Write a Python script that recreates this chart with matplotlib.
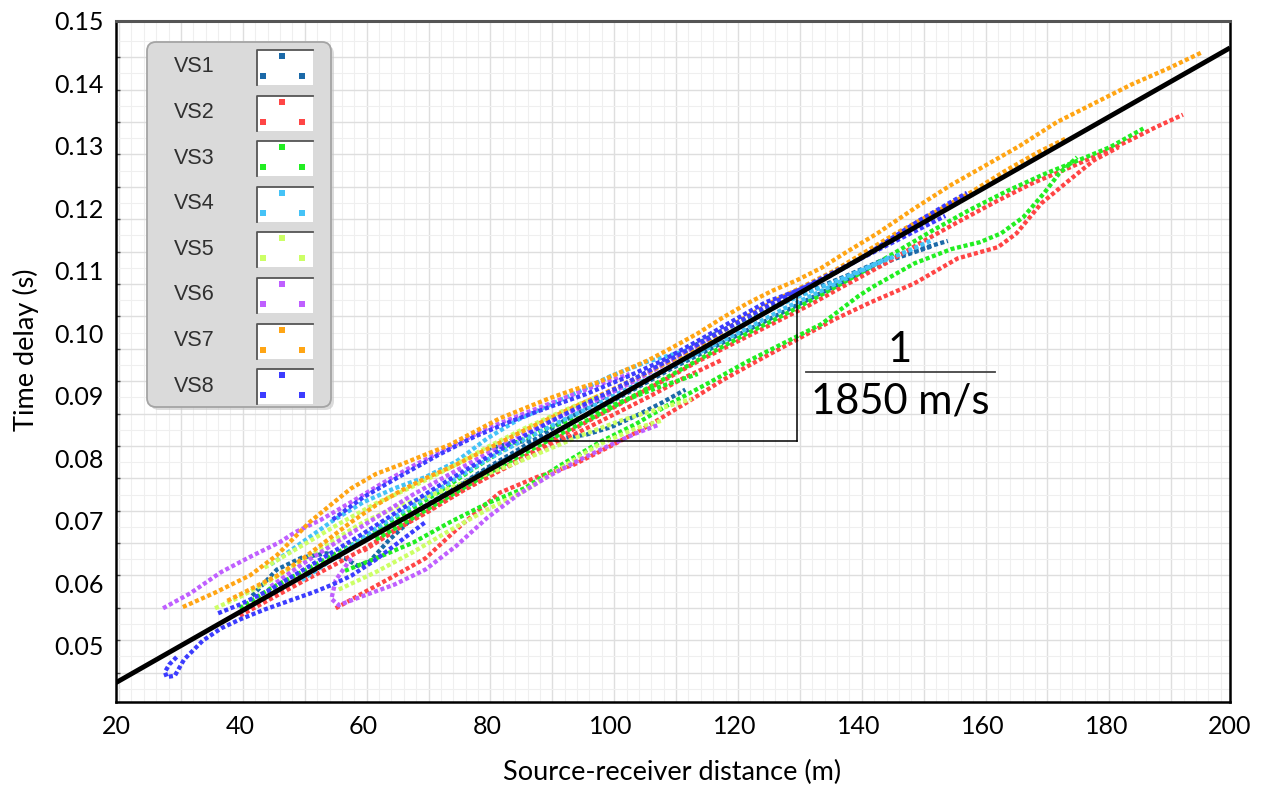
import numpy as np
import matplotlib
matplotlib.use("Agg")
import matplotlib.pyplot as plt
from matplotlib.patches import FancyBboxPatch, Rectangle

# ---------------- data ----------------
FIT_D = [20, 200]
FIT_T = [0.0441, 0.1457]

SERIES_NAMES = ["VS1", "VS2", "VS3", "VS4", "VS5", "VS6", "VS7", "VS8"]
SERIES_COLORS = ["#1b69a8", "#ff4545", "#22ee22", "#45c3f7",
                 "#ccff66", "#bf5fff", "#ffa514", "#3c3cff"]

VS1 = [
    ([42, 46, 50, 54, 57, 59, 61, 64, 68, 72, 76, 80, 84, 88, 92, 96, 100, 104, 108, 112, 116, 120, 126, 132, 138, 144, 150, 154.4],
     [0.0580, 0.0622, 0.0641, 0.0648, 0.0640, 0.0628, 0.0635, 0.0668, 0.0705, 0.0735, 0.0760, 0.0785, 0.0808, 0.0832, 0.0858, 0.0880, 0.0905, 0.0928, 0.0950, 0.0972, 0.0995, 0.1015, 0.1042, 0.1068, 0.1092, 0.1118, 0.1135, 0.1148]),
    ([50, 56, 62, 68, 74, 80, 86, 92, 98, 104, 110, 116, 122, 128, 134, 140, 146, 152],
     [0.0610, 0.0645, 0.0680, 0.0712, 0.0748, 0.0782, 0.0815, 0.0848, 0.0880, 0.0912, 0.0945, 0.0975, 0.1005, 0.1035, 0.1065, 0.1095, 0.1120, 0.1140]),
    ([80, 84, 88, 92, 96, 100, 104, 108, 112],
     [0.0815, 0.0825, 0.0830, 0.0832, 0.0838, 0.0850, 0.0868, 0.0888, 0.0910]),
]
VS2 = [
    ([60, 66, 72, 78, 84, 90, 96, 102, 108, 114, 120, 126, 132, 138, 144, 150, 156, 162, 168, 174, 179, 184, 188, 192.4],
     [0.0652, 0.0690, 0.0725, 0.0760, 0.0792, 0.0825, 0.0858, 0.0890, 0.0922, 0.0955, 0.0985, 0.1015, 0.1045, 0.1078, 0.1110, 0.1145, 0.1178, 0.1210, 0.1240, 0.1265, 0.1287, 0.1310, 0.1330, 0.1350]),
    ([55.5, 60, 65, 70, 76, 82, 88, 94, 100, 106, 112, 118, 124, 130, 136, 142, 149, 156, 162.5, 165.5, 169.5, 174, 178, 182],
     [0.0560, 0.0585, 0.0612, 0.0640, 0.0695, 0.0745, 0.0770, 0.0790, 0.0820, 0.0852, 0.0888, 0.0925, 0.0958, 0.0990, 0.1022, 0.1050, 0.1080, 0.1120, 0.1138, 0.1160, 0.1208, 0.1245, 0.1277, 0.1298]),
    ([40, 45, 50, 55, 60, 65, 70, 76, 82, 88, 94, 100, 106, 112, 118],
     [0.0548, 0.0575, 0.0602, 0.0628, 0.0655, 0.0685, 0.0712, 0.0748, 0.0780, 0.0810, 0.0838, 0.0868, 0.0898, 0.0930, 0.0958]),
]
VS3 = [
    ([62, 68, 74, 80, 86, 92, 98, 104, 110, 116, 122, 128, 134, 140, 146, 152, 158, 164, 170, 175, 180.6, 186],
     [0.0670, 0.0705, 0.0740, 0.0775, 0.0808, 0.0840, 0.0870, 0.0902, 0.0935, 0.0968, 0.1000, 0.1030, 0.1062, 0.1095, 0.1130, 0.1165, 0.1198, 0.1228, 0.1255, 0.1275, 0.1298, 0.1328]),
    ([57, 62, 68, 74, 80, 86, 92, 98, 104, 110, 116, 122, 128, 134, 140, 142.2, 149, 155, 159.6, 163, 166.6, 170, 172.4, 175.3],
     [0.0620, 0.0640, 0.0665, 0.0698, 0.0728, 0.0752, 0.0790, 0.0825, 0.0855, 0.0890, 0.0922, 0.0955, 0.0985, 0.1015, 0.1060, 0.1074, 0.1112, 0.1135, 0.1146, 0.1160, 0.1186, 0.1225, 0.1256, 0.1282]),
    ([40, 45, 50, 55, 60, 66, 72, 78, 84, 90, 96, 102, 108, 114],
     [0.0560, 0.0592, 0.0618, 0.0645, 0.0672, 0.0708, 0.0745, 0.0785, 0.0822, 0.0850, 0.0868, 0.0892, 0.0915, 0.0935]),
]
VS4 = [
    ([45, 50, 55, 60, 65, 70, 75, 80, 85, 90, 95, 100, 106, 112, 118, 124, 130, 136, 142, 148, 152],
     [0.0630, 0.0665, 0.0700, 0.0730, 0.0752, 0.0770, 0.0795, 0.0832, 0.0862, 0.0885, 0.0908, 0.0932, 0.0955, 0.0972, 0.0995, 0.1030, 0.1058, 0.1082, 0.1108, 0.1132, 0.1150]),
    ([50, 56, 62, 68, 74, 80, 86, 92, 98, 104, 110, 116, 122, 128, 134, 140, 145],
     [0.0605, 0.0645, 0.0688, 0.0725, 0.0762, 0.0798, 0.0830, 0.0860, 0.0888, 0.0918, 0.0948, 0.0978, 0.1008, 0.1040, 0.1068, 0.1098, 0.1122]),
]
VS5 = [
    ([36, 40, 45, 50, 55, 60, 66, 72, 78, 84, 90, 96, 102, 108, 113],
     [0.0560, 0.0578, 0.0605, 0.0635, 0.0668, 0.0698, 0.0725, 0.0745, 0.0768, 0.0790, 0.0815, 0.0840, 0.0862, 0.0880, 0.0895]),
    ([56, 62, 68, 74, 80, 86, 92, 98, 104, 108.4],
     [0.0590, 0.0618, 0.0650, 0.0685, 0.0718, 0.0748, 0.0785, 0.0822, 0.0848, 0.0861]),
    ([44, 50, 56, 62, 68, 74, 80, 86, 92, 98],
     [0.0625, 0.0660, 0.0695, 0.0728, 0.0755, 0.0785, 0.0818, 0.0848, 0.0875, 0.0900]),
]
VS6 = [
    ([27.6, 32, 37, 41.6, 46.5, 49, 53, 58, 63, 68, 74, 80, 86, 92, 98, 103],
     [0.0560, 0.0584, 0.0618, 0.0642, 0.0666, 0.0682, 0.0701, 0.0730, 0.0760, 0.0788, 0.0818, 0.0848, 0.0872, 0.0895, 0.0918, 0.0935]),
    ([58, 55.5, 54.8, 56, 60, 65, 70, 75, 80, 85, 90, 95, 100, 104, 107.5],
     [0.0640, 0.0605, 0.0575, 0.0565, 0.0580, 0.0598, 0.0622, 0.0660, 0.0705, 0.0742, 0.0772, 0.0798, 0.0822, 0.0840, 0.0853]),
    ([45, 50, 56, 62, 68, 74, 80, 86, 92, 98, 104, 110, 116],
     [0.0595, 0.0630, 0.0668, 0.0705, 0.0742, 0.0775, 0.0808, 0.0840, 0.0868, 0.0895, 0.0925, 0.0958, 0.0992]),
]
VS7 = [
    ([30.8, 36, 41.7, 46, 51.3, 55, 58, 62, 66, 70, 74, 78, 82, 86, 90, 94, 98, 102, 106, 110, 114, 118, 122, 126, 130, 134, 138, 143, 149, 155, 160, 166, 172, 178, 184, 190, 195.5],
     [0.0562, 0.0585, 0.0613, 0.0645, 0.0698, 0.0728, 0.0752, 0.0775, 0.0790, 0.0806, 0.0822, 0.0843, 0.0864, 0.0880, 0.0896, 0.0910, 0.0922, 0.0940, 0.0957, 0.0978, 0.1000, 0.1025, 0.1048, 0.1068, 0.1085, 0.1105, 0.1130, 0.1160, 0.1200, 0.1238, 0.1266, 0.1300, 0.1338, 0.1368, 0.1398, 0.1424, 0.1450]),
    ([38, 42, 46, 50, 54, 58, 62, 66, 70, 75, 80, 86, 92, 98, 104, 110, 116, 121, 126, 131, 136, 141, 146, 152, 158, 164, 169, 173.5],
     [0.0572, 0.0592, 0.0612, 0.0638, 0.0668, 0.0698, 0.0725, 0.0748, 0.0768, 0.0790, 0.0815, 0.0845, 0.0873, 0.0900, 0.0928, 0.0958, 0.0990, 0.1022, 0.1050, 0.1075, 0.1100, 0.1130, 0.1160, 0.1192, 0.1225, 0.1262, 0.1290, 0.1312]),
]
VS8 = [
    ([29.8, 28.6, 27.9, 28.2, 29.5, 31, 34, 37, 40, 44, 48, 52, 55, 58, 62, 66, 70],
     [0.0482, 0.0470, 0.0458, 0.0450, 0.0452, 0.0478, 0.0508, 0.0528, 0.0542, 0.0558, 0.0572, 0.0586, 0.0598, 0.0612, 0.0638, 0.0668, 0.0698]),
    ([36.5, 40, 45, 50, 55, 60, 66, 72, 78, 84, 90, 96, 102, 108, 114, 120, 126, 132, 138, 144, 150, 154],
     [0.0552, 0.0566, 0.0590, 0.0620, 0.0650, 0.0680, 0.0718, 0.0755, 0.0790, 0.0825, 0.0858, 0.0888, 0.0918, 0.0950, 0.0982, 0.1015, 0.1048, 0.1078, 0.1108, 0.1138, 0.1168, 0.1188]),
    ([55, 60, 66, 72, 78, 84, 90, 96, 102, 108, 114, 120, 125, 130, 135, 140, 145, 150, 154, 157.5],
     [0.0702, 0.0738, 0.0772, 0.0805, 0.0835, 0.0860, 0.0882, 0.0903, 0.0928, 0.0955, 0.0988, 0.1022, 0.1050, 0.1068, 0.1090, 0.1118, 0.1150, 0.1182, 0.1205, 0.1225]),
]
ALL_SERIES = [VS1, VS2, VS3, VS4, VS5, VS6, VS7, VS8]

X_TICKS = [20, 40, 60, 80, 100, 120, 140, 160, 180, 200]
Y_TICKS = [0.05, 0.06, 0.07, 0.08, 0.09, 0.10, 0.11, 0.12, 0.13, 0.14, 0.15]

SLOPE_TEXT_TOP = "1"
SLOPE_TEXT_BOTTOM = "1850 m/s"
TRI_X_RIGHT = 130
TRI_T_BOTTOM = 0.0828

# ---------------- figure ----------------
W, H = 1272, 791
fig = plt.figure(figsize=(W / 100, H / 100), dpi=100)
FONT = "Lato"

AX_L, AX_R, AX_T, AX_B = 116, 1230, 21, 702
ax = fig.add_axes([AX_L / W, (H - AX_B) / H, (AX_R - AX_L) / W, (AX_B - AX_T) / H])
ax.set_xlim(20, 200)
ax.set_ylim(0.0410, 0.150)

# grid (two levels)
for xv in np.arange(20.5, 200, 2.0):
    major = abs(((xv - 0.5) % 10)) < 1e-6
    ax.axvline(xv, color="#dedede" if major else "#efefef", lw=1.0 if major else 0.8, zorder=0)
y_major = [0.15 - (57 + 32.4 * k - 20.7) / 6250 for k in range(20)]
y_minor = [v - 0.002592 for v in y_major] + [y_major[0] + 0.002592]
for yv in y_minor:
    ax.axhline(yv, color="#efefef", lw=0.8, zorder=0)
for yv in y_major:
    ax.axhline(yv, color="#dedede", lw=1.0, zorder=0)

# traces (square-dot look)
for traces, col in zip(ALL_SERIES, SERIES_COLORS):
    for d, t in traces:
        ax.plot(d, t, color=col, lw=3.1, linestyle=(0, (0.95, 0.6)),
                dash_capstyle="butt", dash_joinstyle="miter", zorder=2)

# fit line
ax.plot(FIT_D, FIT_T, color="black", lw=3.5, zorder=4, solid_capstyle="butt")

# slope triangle
t_line_right = np.interp(TRI_X_RIGHT, FIT_D, FIT_T)
d_line_bottom = np.interp(TRI_T_BOTTOM, FIT_T, FIT_D)
ax.plot([d_line_bottom, TRI_X_RIGHT], [TRI_T_BOTTOM, TRI_T_BOTTOM], color="black", lw=1.1, zorder=3)
ax.plot([TRI_X_RIGHT, TRI_X_RIGHT], [TRI_T_BOTTOM, t_line_right], color="black", lw=1.1, zorder=3)
ax.text(146.7, 0.0954, SLOPE_TEXT_TOP, fontsize=30, family=FONT, ha="center", va="baseline", zorder=5)
ax.plot([131.5, 162], [0.0938, 0.0938], color="#444444", lw=1.3, zorder=5)
ax.text(146.7, 0.0872, SLOPE_TEXT_BOTTOM, fontsize=30, family=FONT, ha="center", va="baseline", zorder=5)

# ticks
ax.set_xticks(X_TICKS)
ax.set_xticklabels([str(v) for v in X_TICKS], fontsize=18, family=FONT)
ax.set_yticks(Y_TICKS)
ax.set_yticklabels(["%.2f" % v for v in Y_TICKS], fontsize=18, family=FONT)
ax.tick_params(axis="both", length=0, pad=9)
ax.set_yticks(y_major, minor=True)
ax.tick_params(axis="y", which="minor", direction="in", length=3, width=1, color="#444444")
ax.tick_params(axis="x", which="minor", length=0)

ax.set_xlabel("Source-receiver distance (m)", fontsize=19.5, family=FONT)
ax.set_ylabel("Time delay (s)", fontsize=19.5, family=FONT)
ax.xaxis.set_label_coords((672 - AX_L) / (AX_R - AX_L), (AX_B - 772) / (AX_B - AX_T))
ax.xaxis.label.set_va("center")
ax.yaxis.set_label_coords((26 - AX_L) / (AX_R - AX_L), (AX_B - 350) / (AX_B - AX_T))
ax.yaxis.label.set_va("center")

for s in ["left", "bottom", "right"]:
    ax.spines[s].set_color("black")
    ax.spines[s].set_linewidth(1.8)
ax.spines["top"].set_color("#555555")
ax.spines["top"].set_linewidth(2.2)

# ---------------- legend (pixel overlay) ----------------
ov = fig.add_axes([0, 0, 1, 1], zorder=10)
ov.set_xlim(0, W)
ov.set_ylim(H, 0)
ov.axis("off")
ov.patch.set_alpha(0)
ov.add_patch(FancyBboxPatch((150, 45), 184, 365, boxstyle="round,pad=0,rounding_size=9",
                            fc="#c4c4c4", ec="none", alpha=0.6))
ov.add_patch(FancyBboxPatch((147, 42), 184, 365, boxstyle="round,pad=0,rounding_size=9",
                            fc="#dadada", ec="#a4a4a4", lw=1.3))
for i, (name, col) in enumerate(zip(SERIES_NAMES, SERIES_COLORS)):
    cy = 67 + 45.6 * i
    ov.text(194, cy, name, fontsize=15.5, family="Liberation Sans", color="#303030",
            ha="center", va="center")
    ov.add_patch(Rectangle((257, cy - 17), 56, 35, fc="white", ec="none"))
    ov.plot([257, 257, 313], [cy + 18, cy - 17, cy - 17], color="#555555", lw=1.3)
    ov.plot([282, 263, 302], [cy - 11, cy + 9, cy + 9], linestyle="none", marker="s",
            markersize=3.8, color=col, markeredgewidth=0)

fig.savefig("out.png", dpi=100, facecolor="white")
